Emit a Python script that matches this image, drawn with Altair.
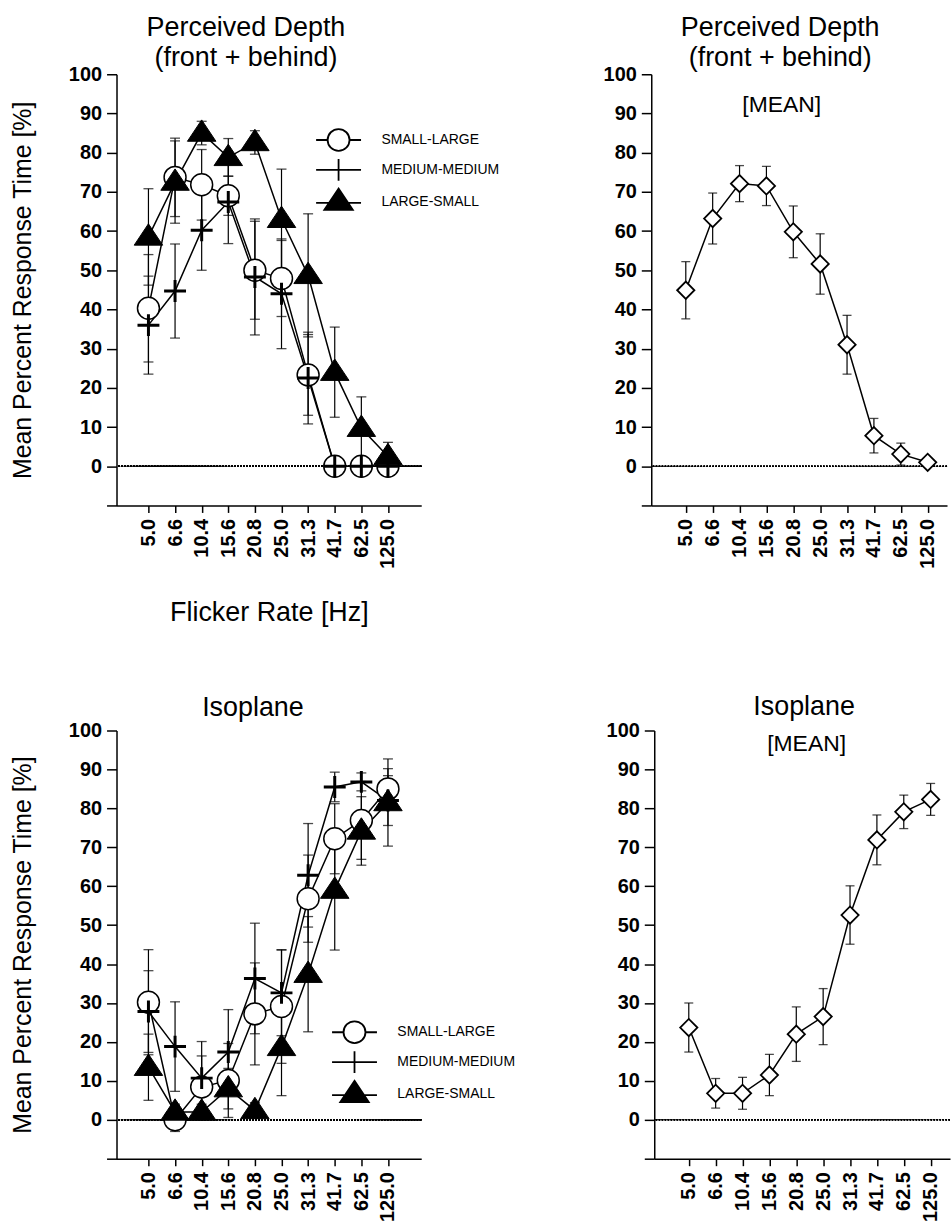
import altair as alt
import pandas as pd

FONT = "Liberation Sans"

freq_labels = ["5.0", "6.6", "10.4", "15.6", "20.8", "25.0", "31.3", "41.7", "62.5", "125.0"]
series_names = ["SMALL-LARGE", "MEDIUM-MEDIUM", "LARGE-SMALL"]

# Perceived depth (front + behind)
depth_small_large = [40.3, 73.7, 71.8, 69.0, 50.0, 47.9, 23.3, 0.0, 0.0, 0.0]
depth_small_large_err = [13.7, 10.0, 9.0, 5.0, 12.5, 9.7, 10.3, 0.0, 0.0, 0.0]
depth_medium_medium = [36.0, 44.7, 60.2, 67.4, 48.3, 44.0, 22.5, 0.0, 0.0, 0.0]
depth_medium_medium_err = [12.5, 12.0, 10.2, 10.6, 14.8, 14.0, 11.7, 0.0, 0.0, 0.0]
depth_large_small = [58.5, 72.5, 85.0, 78.8, 82.6, 63.0, 48.7, 24.0, 9.7, 2.5]
depth_large_small_err = [12.3, 10.5, 3.0, 4.8, 3.0, 12.8, 15.7, 11.5, 8.0, 3.6]

depth_mean = [44.9, 63.2, 72.1, 71.5, 59.8, 51.6, 31.0, 7.8, 3.1, 1.0]
depth_mean_err = [7.3, 6.5, 4.6, 5.0, 6.6, 7.7, 7.5, 4.4, 2.8, 0.0]

# Isoplane
iso_small_large = [30.2, 0.0, 8.4, 10.1, 27.2, 29.1, 56.8, 72.2, 76.9, 85.0]
iso_small_large_err = [13.5, 3.0, 8.0, 9.5, 13.1, 14.6, 11.2, 9.0, 10.0, 5.2]
iso_medium_medium = [27.8, 18.8, 10.7, 17.4, 36.3, 32.6, 62.8, 85.5, 86.8, 82.0]
iso_medium_medium_err = [10.5, 11.5, 9.4, 10.9, 14.2, 11.0, 13.3, 3.8, 2.3, 6.4]
iso_large_small = [13.5, 2.0, 2.0, 8.0, 2.4, 18.6, 37.4, 59.0, 74.2, 81.5]
iso_large_small_err = [8.5, 2.0, 2.0, 5.2, 2.0, 12.4, 14.8, 15.4, 8.8, 11.2]

iso_mean = [23.7, 6.8, 6.8, 11.5, 22.0, 26.5, 52.6, 71.9, 79.1, 82.3]
iso_mean_err = [6.3, 3.8, 4.1, 5.3, 7.0, 7.2, 7.5, 6.4, 4.3, 4.1]

y_title = "Mean Percent Response Time [%]"
x_title = "Flicker Rate [Hz]"

LABEL_EXPR = "[" + ",".join("'%s'" % l for l in freq_labels) + "][datum.value]"
Y_TICKS = list(range(-10, 101, 10))

CIRCLE = "M-1,0A1,1,0,1,1,1,0A1,1,0,1,1,-1,0Z"
PLUS = "M-1,0L1,0M0,-1L0,1"
TRIANGLE = "M0,-1.2L1.3,0.75L-1.3,0.75Z"
legend_paths = [
    "M-2.05,0L-1,0M1,0L2.05,0" + CIRCLE,
    "M-2.05,0L2.05,0M0,-1L0,1",
    "M-2.05,0.1L2.05,0.1" + TRIANGLE,
]
legend_fills = ["white", "white", "black"]


def frame(name, values, errs):
    df = pd.DataFrame({
        "series": name,
        "idx": list(range(len(values))),
        "freq": freq_labels,
        "value": values,
        "err": errs,
    })
    df["lo"] = df["value"] - df["err"]
    df["hi"] = df["value"] + df["err"]
    return df


def x_axis():
    return alt.Axis(values=list(range(len(freq_labels))), labelExpr=LABEL_EXPR, labelAngle=-90,
                    grid=False, labelOverlap=False,
                    tickSize=7, labelPadding=6, labelFontSize=20, labelFontWeight="bold",
                    titleFontSize=27, titleFontWeight="normal", titlePadding=31)


def y_axis():
    return alt.Axis(values=Y_TICKS, labelExpr="datum.value < 0 ? '' : datum.value",
                    grid=False, labelOverlap=False,
                    tickSize=10, labelPadding=5, labelFontSize=20, labelFontWeight="bold",
                    titleFontSize=25, titleFontWeight="normal", titlePadding=33)


Y_SCALE = alt.Scale(domain=[-10, 100], nice=False, zero=False)


def x_enc(domain, title):
    return alt.X("idx:Q", scale=alt.Scale(domain=domain, nice=False, zero=False), axis=x_axis(), title=title)


def y_enc(field, title):
    return alt.Y(field, scale=Y_SCALE, axis=y_axis(), title=title)


def common_layers(df, xdom, xt, yt, cap):
    zero = alt.Chart(df).mark_rule(color="black", strokeWidth=1, strokeDash=[1.5, 1.5]).encode(
        y=alt.Y(datum=0, scale=Y_SCALE, axis=y_axis(), title=yt))
    bars = alt.Chart(df).transform_filter("datum.err > 0").mark_rule(color="black", strokeWidth=1.2).encode(
        x=x_enc(xdom, xt), y=y_enc("lo:Q", yt), y2="hi:Q")
    cap_lo = alt.Chart(df).transform_filter("datum.err > 0").mark_tick(
        orient="horizontal", color="black", size=cap, thickness=1.3).encode(
        x=x_enc(xdom, xt), y=y_enc("lo:Q", yt))
    cap_hi = alt.Chart(df).transform_filter("datum.err > 0").mark_tick(
        orient="horizontal", color="black", size=cap, thickness=1.3).encode(
        x=x_enc(xdom, xt), y=y_enc("hi:Q", yt))
    line = alt.Chart(df).mark_line(color="black", strokeWidth=1.5).encode(
        x=x_enc(xdom, xt), y=y_enc("value:Q", yt), detail="series:N", order="idx:Q")
    return [zero, bars, cap_lo, cap_hi, line]


def series_panel(s_vals, title, xt, legend_x, legend_y, width, height):
    dfs = [frame(n, v, e) for n, (v, e) in zip(series_names, s_vals)]
    df = pd.concat(dfs, ignore_index=True)
    xdom = [-1.2, 10.25]
    layers = common_layers(df, xdom, xt, y_title, 10)
    styles = [
        dict(shape=CIRCLE, size=484, filled=True, fill="white", stroke="black", strokeWidth=1.5),
        dict(shape=PLUS, size=484, filled=False, stroke="black", strokeWidth=3),
        dict(shape=TRIANGLE, size=484, filled=True, fill="black", stroke="black", strokeWidth=1),
    ]
    for name, st in zip(series_names, styles):
        layers.append(
            alt.Chart(df).transform_filter(alt.datum.series == name).mark_point(opacity=1, **st).encode(
                x=x_enc(xdom, xt), y=y_enc("value:Q", y_title)))
    leg = alt.Legend(orient="none", legendX=legend_x, legendY=legend_y, title=None,
                     symbolSize=484, symbolStrokeColor="black", symbolStrokeWidth=1.8,
                     labelFont=FONT, labelFontSize=14, labelOffset=31, rowPadding=0, padding=0)
    legend_layer = alt.Chart(df).transform_filter("datum.idx < 0").mark_point(
        filled=True, opacity=1).encode(
        x=x_enc(xdom, xt), y=y_enc("value:Q", y_title),
        shape=alt.Shape("series:N", scale=alt.Scale(domain=series_names, range=legend_paths), legend=leg),
        fill=alt.Fill("series:N", scale=alt.Scale(domain=series_names, range=legend_fills), legend=leg),
        stroke=alt.Stroke("series:N", scale=alt.Scale(domain=series_names, range=["black", "black", "black"]),
                          legend=leg))
    layers.append(legend_layer)
    return alt.layer(*layers).properties(width=width, height=height, title=title)


def mean_panel(vals, errs, title, mean_x, mean_y, width, height):
    df = frame("MEAN", vals, errs)
    xdom = [-1.285, 9.72]
    layers = common_layers(df, xdom, None, None, 9)
    layers.append(alt.Chart(df).mark_point(shape="diamond", size=300, filled=True, fill="white",
                                            stroke="black", strokeWidth=1.8, opacity=1).encode(
        x=x_enc(xdom, None), y=y_enc("value:Q", None)))
    txt = alt.Chart(pd.DataFrame({"t": ["[MEAN]"]})).mark_text(
        font=FONT, fontSize=23, align="center", baseline="alphabetic", color="black").encode(
        text="t:N", x=alt.value(mean_x), y=alt.value(mean_y))
    layers.append(txt)
    return alt.layer(*layers).properties(width=width, height=height, title=title)


def ptitle(lines, dx, offset):
    return alt.TitleParams(text=lines, anchor="middle", frame="group", dx=dx, offset=offset,
                           font=FONT, fontSize=27, fontWeight="normal", lineHeight=30, color="black")


tl = series_panel(
    [(depth_small_large, depth_small_large_err), (depth_medium_medium, depth_medium_medium_err),
     (depth_large_small, depth_large_small_err)],
    ptitle(["Perceived Depth", "(front + behind)"], -23, -8), x_title, 211, 54, 306, 433)
tr = mean_panel(depth_mean, depth_mean_err, ptitle(["Perceived Depth", "(front + behind)"], -19, -8),
                131, 38, 297, 433)
bl = series_panel(
    [(iso_small_large, iso_small_large_err), (iso_medium_medium, iso_medium_medium_err),
     (iso_large_small, iso_large_small_err)],
    ptitle(["Isoplane"], -16, -1), None, 227, 291, 306, 430)
br = mean_panel(iso_mean, iso_mean_err, ptitle(["Isoplane"], 2, 0), 153, 21, 297, 430)

row1 = alt.hconcat(tl, tr, spacing=103).resolve_scale(shape="independent", fill="independent",
                                                      stroke="independent")
row2 = alt.hconcat(bl, br, spacing=90).resolve_scale(shape="independent", fill="independent",
                                                     stroke="independent")

chart = alt.vconcat(row1, row2, spacing=67).resolve_scale(
    shape="independent", fill="independent", stroke="independent"
).resolve_legend(shape="independent", fill="independent", stroke="independent").properties(
    padding={"left": 10, "top": 12, "right": 0, "bottom": 0}, background="white"
).configure_view(stroke=None).configure_axis(
    grid=False, domainColor="black", domainWidth=1.5, tickColor="black", tickWidth=1.5,
    labelColor="black", titleColor="black", labelFont=FONT, titleFont=FONT, labelOverlap=False
)

chart.save("out.html", embed_options={"renderer": "svg", "actions": False})
